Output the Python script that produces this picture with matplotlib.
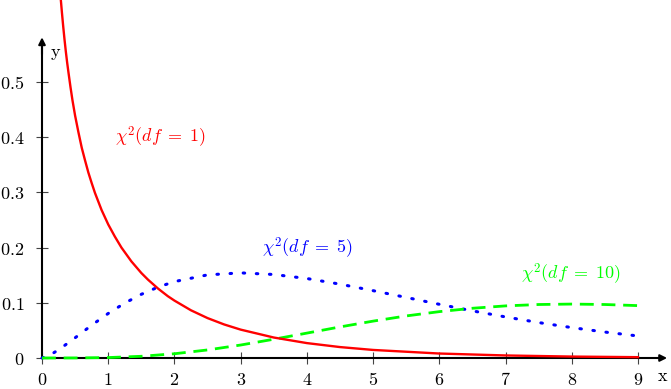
import numpy as np
import matplotlib.pyplot as plt

plt.rcParams['mathtext.fontset'] = 'cm'
plt.rcParams['font.family'] = 'DejaVu Serif'

# values
red_x = [0.28, 0.29, 0.3, 0.32, 0.34, 0.36, 0.38, 0.4, 0.43, 0.46, 0.5, 0.55, 0.6,
         0.65, 0.7, 0.75, 0.8, 0.9, 1.0, 1.1, 1.2, 1.35, 1.5, 1.6, 1.75, 1.9, 2.0,
         2.25, 2.5, 2.75, 3.0, 3.5, 4.0, 4.5, 5.0, 6.0, 7.0, 8.0, 9.0]
red_y = [0.655, 0.641, 0.627, 0.601, 0.577, 0.555, 0.535, 0.517, 0.491, 0.467, 0.439,
         0.409, 0.381, 0.358, 0.336, 0.317, 0.299, 0.268, 0.242, 0.220, 0.200, 0.175,
         0.154, 0.142, 0.126, 0.112, 0.104, 0.0864, 0.0723, 0.0608, 0.0514, 0.0371,
         0.0270, 0.0198, 0.0146, 0.0081, 0.0046, 0.0026, 0.0015]

blue_x = [0, 0.1, 0.25, 0.5, 0.75, 1.0, 1.25, 1.5, 1.75, 2.0, 2.5, 3.0, 3.5, 4.0, 4.5,
          5.0, 5.5, 6.0, 6.5, 7.0, 7.5, 8.0, 8.5, 9.0]
blue_y = [0, 0.0040, 0.0147, 0.0366, 0.0594, 0.0807, 0.0995, 0.1154, 0.1283, 0.1384,
          0.1506, 0.1542, 0.1513, 0.1440, 0.1338, 0.1220, 0.1097, 0.0973, 0.0854,
          0.0744, 0.0642, 0.0551, 0.0470, 0.0399]

green_x = [0, 0.5, 1.0, 1.5, 2.0, 2.5, 3.0, 3.5, 4.0, 4.5, 5.0, 5.5, 6.0, 6.5, 7.0,
           7.5, 8.0, 8.5, 9.0]
green_y = [0, 0.0001, 0.0008, 0.0031, 0.0077, 0.0146, 0.0235, 0.0340, 0.0451, 0.0563,
           0.0668, 0.0762, 0.0840, 0.0901, 0.0944, 0.0969, 0.0977, 0.0969, 0.0949]

xticks = [0, 1, 2, 3, 4, 5, 6, 7, 8, 9]
yticks = [0, 0.1, 0.2, 0.3, 0.4, 0.5]

fig = plt.figure(figsize=(6.71, 3.89), dpi=100)
ax = fig.add_axes([0, 0, 1, 1])
ax.set_xlim(-42 / 66.22, 629 / 66.22)
ax.set_ylim(-31 / 552, 358 / 552)
ax.patch.set_visible(False)

ax.plot(blue_x, blue_y, color='#0000ff', lw=2.2, linestyle=(0, (0.5, 3.8)),
        dash_capstyle='round', zorder=3)
ax.plot(green_x, green_y, color='#00ff00', lw=2, linestyle=(0, (5, 2.8)), zorder=3)
ax.plot(red_x, red_y, color='#ff0000', lw=1.7, zorder=4)

for s in ['top', 'right']:
    ax.spines[s].set_visible(False)
ax.spines['left'].set_position(('data', 0))
ax.spines['bottom'].set_position(('data', 0))
ax.spines['left'].set_bounds(0, 0.57)
ax.spines['bottom'].set_bounds(0, 9.35)
for s in ['left', 'bottom']:
    ax.spines[s].set_linewidth(1.5)
    ax.spines[s].set_zorder(2)

ax.annotate('', xy=(9.44, 0), xytext=(9.3, 0),
            arrowprops=dict(arrowstyle='-|>', color='black', lw=1.5,
                            mutation_scale=10, shrinkA=0, shrinkB=0))
ax.annotate('', xy=(0, 0.581), xytext=(0, 0.55),
            arrowprops=dict(arrowstyle='-|>', color='black', lw=1.5,
                            mutation_scale=10, shrinkA=0, shrinkB=0))

ax.set_xticks(xticks)
ax.set_xticklabels(['$%d$' % t for t in xticks])
ax.set_yticks(yticks)
ax.set_yticklabels(['$0$'] + ['$%.1f$' % t for t in yticks[1:]])
ax.tick_params(direction='inout', length=9, width=0.8, color='#444444',
               labelsize=13)
ax.tick_params(axis='x', pad=5)
ax.tick_params(axis='y', pad=8)

ax.text(9.38, -0.016, '$\\mathrm{x}$', fontsize=13, ha='center', va='top')
ax.text(0.21, 0.553, '$\\mathrm{y}$', fontsize=13, ha='center', va='center')

ax.text(1.78, 0.400, r'$\chi^2(df\;=\;1)$', color='#ff0000', fontsize=13,
        ha='center', va='center')
ax.text(4.00, 0.199, r'$\chi^2(df\;=\;5)$', color='#0000ff', fontsize=13,
        ha='center', va='center')
ax.text(7.99, 0.152, r'$\chi^2(df\;=\;10)$', color='#00ff00', fontsize=13,
        ha='center', va='center')

fig.savefig('out.png', dpi=100)
